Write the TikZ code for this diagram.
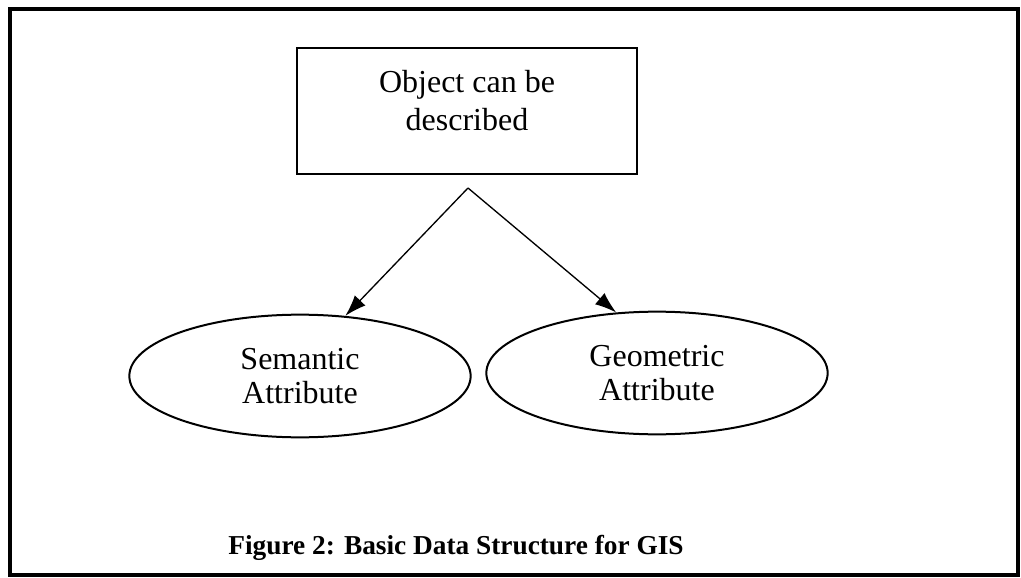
\documentclass[tikz,border=0pt]{standalone}
\usepackage{fontspec}
\setmainfont{Liberation Serif}
\usetikzlibrary{shapes.geometric,arrows.meta}

\tikzset{
  frame/.style={draw=black, line width=2.4pt},
  objbox/.style={draw=black, line width=1.5pt, minimum width=255pt, minimum height=94.5pt, inner sep=0pt},
  attr/.style={ellipse, draw=black, line width=1.5pt, minimum width=256pt, minimum height=92pt,
               inner sep=0pt, align=center, font=\fontsize{24}{26}\selectfont},
  boxtext/.style={align=center, font=\fontsize{24}{28.5}\selectfont, inner sep=0pt},
  link/.style={line width=1pt, -{Latex[length=16pt,width=11pt]}},
  caption/.style={font=\bfseries\fontsize{20.5}{25}\selectfont, inner sep=0pt, anchor=base}
}

\begin{document}
\begin{tikzpicture}[x=0.75pt, y=-0.75pt]
  \useasboundingbox (0,0) rectangle (1021,578);

  % outer frame
  \draw[frame] (10,9) rectangle (1018,575);

  % top box with its two-line label
  \node[objbox] (obj) at (467,111) {};
  \node[boxtext] (objtext) at (467,101) {Object can be\\described};

  % split point below the box
  \coordinate (split) at (468,188);

  % the two attribute ellipses
  \node[attr] (sem) at (300,376) {Semantic\\Attribute};
  \node[attr] (geo) at (657,373) {Geometric\\Attribute};

  % connectors
  \draw[link] (split) -- (sem.53);
  \draw[link] (split) -- (geo.124);

  % caption
  \node[caption] (cap) at (456,554) {Figure 2: Basic Data Structure for GIS};
\end{tikzpicture}
\end{document}
